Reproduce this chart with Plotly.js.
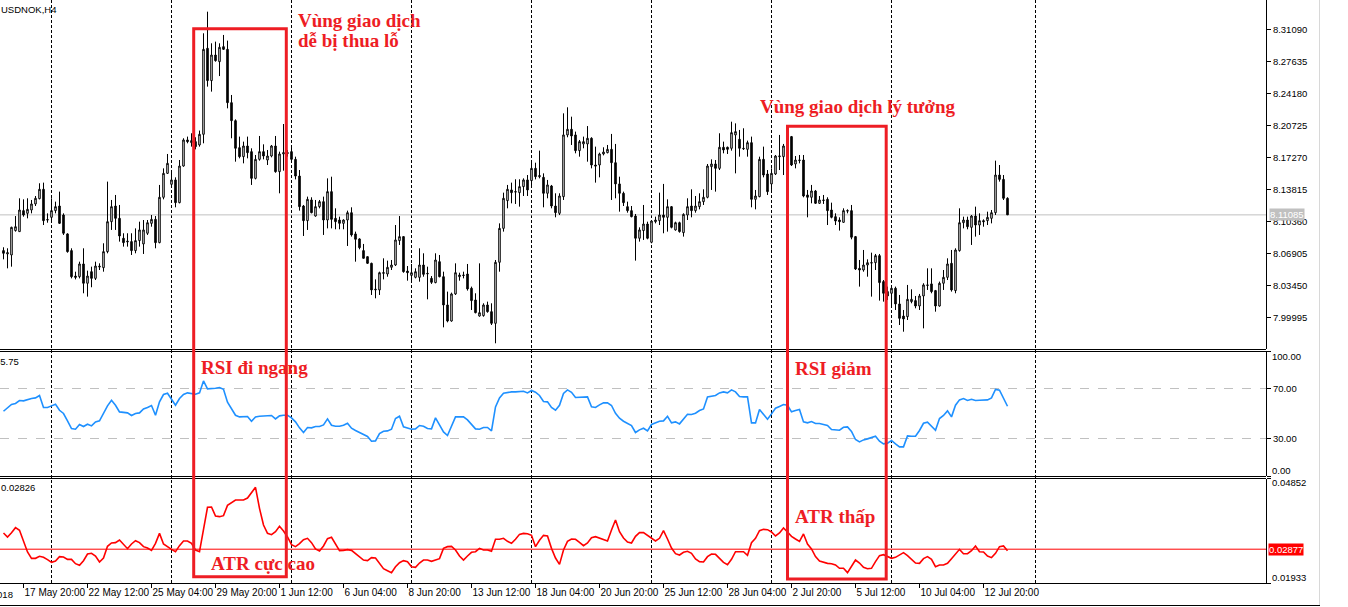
<!DOCTYPE html>
<html><head><meta charset="utf-8">
<script src="https://cdn.plot.ly/plotly-3.0.1.min.js"></script>
<style>html,body{margin:0;padding:0;background:#fff;overflow:hidden}#chart{width:1348px;height:607px}</style>
</head><body><div id="chart"></div>
<script>
const symbolTitle = 'USDNOK,H4';
const openPrices = [8.0723,8.0687,8.0676,8.0939,8.0928,8.1154,8.1125,8.1161,8.1226,8.1283,
8.1384,8.1053,8.1082,8.1154,8.1204,8.1107,8.0903,8.0723,8.0449,8.0442,
8.0579,8.0371,8.0496,8.0424,8.0546,8.0539,8.0712,8.1035,8.1204,8.1071,
8.0856,8.0816,8.0820,8.0723,8.0831,8.0795,8.0910,8.1017,8.1060,8.0809,
8.1298,8.1556,8.1438,8.1485,8.1240,8.1635,8.1916,8.1887,8.1898,8.1862,
8.1977,8.2904,8.2556,8.2832,8.2760,8.2922,8.2893,8.2318,8.2124,8.1833,
8.1736,8.1851,8.1790,8.1502,8.1707,8.1790,8.1700,8.1743,8.1851,8.1574,
8.1765,8.1779,8.1790,8.1707,8.1527,8.1204,8.1046,8.1269,8.1096,8.1197,
8.1251,8.1053,8.1359,8.1071,8.1053,8.1017,8.1053,8.1132,8.0903,8.0849,
8.0723,8.0658,8.0586,8.0299,8.0299,8.0478,8.0471,8.0543,8.0568,8.0831,
8.0874,8.0503,8.0456,8.0435,8.0435,8.0568,8.0478,8.0424,8.0378,8.0604,
8.0442,8.0137,7.9964,8.0256,8.0442,8.0460,8.0471,8.0317,8.0191,8.0018,
8.0022,8.0137,8.0065,7.9939,8.0597,8.0963,8.1262,8.1377,8.1359,8.1348,
8.1413,8.1485,8.1478,8.1610,8.1520,8.1513,8.1341,8.1420,8.1204,8.1125,
8.1305,8.1970,8.2031,8.1970,8.1801,8.1873,8.1873,8.1934,8.1646,8.1646,
8.1765,8.1779,8.1815,8.1671,8.1442,8.1341,8.1197,8.1154,8.1096,8.0856,
8.0939,8.1010,8.0813,8.1035,8.1046,8.1107,8.1082,8.1197,8.0946,8.1024,
8.0917,8.1107,8.1204,8.1154,8.1197,8.1251,8.1298,8.1628,8.1657,8.1610,
8.1837,8.1837,8.1826,8.1970,8.1923,8.1826,8.1815,8.1887,8.1276,8.1305,
8.1707,8.1549,8.1442,8.1549,8.1736,8.1736,8.1844,8.1952,8.1657,8.1700,
8.1700,8.1323,8.1298,8.1366,8.1233,8.1269,8.1276,8.1161,8.1089,8.1053,
8.1028,8.1154,8.1154,8.0874,8.0532,8.0514,8.0568,8.0593,8.0593,8.0669,
8.0389,8.0281,8.0263,8.0317,8.0148,8.0018,8.0011,8.0173,8.0184,8.0126,
8.0234,8.0353,8.0364,8.0292,8.0126,8.0371,8.0435,8.0586,8.0292,8.0723,
8.1024,8.1053,8.0974,8.1096,8.0999,8.1046,8.1046,8.1071,8.1132,8.1538,
8.1491,8.1287];
const highPrices = [8.0759,8.0748,8.0981,8.1096,8.1287,8.1276,8.1287,8.1269,8.1312,8.1449,
8.1456,8.1125,8.1287,8.1251,8.1359,8.1125,8.0910,8.0748,8.0496,8.0604,
8.0748,8.0507,8.0550,8.0604,8.0586,8.0802,8.1467,8.1269,8.1323,8.1215,
8.0910,8.0910,8.0910,8.0963,8.1035,8.1053,8.1053,8.1107,8.1096,8.1431,
8.1610,8.1765,8.1574,8.1513,8.1700,8.1934,8.1952,8.1988,8.1945,8.2017,
8.3066,8.3299,8.2958,8.2976,8.2958,8.3048,8.2987,8.2401,8.2138,8.1952,
8.1898,8.1952,8.1826,8.1754,8.1959,8.1869,8.1808,8.1862,8.1959,8.1790,
8.2088,8.1808,8.1844,8.1736,8.1592,8.1215,8.1305,8.1298,8.1269,8.1269,
8.1305,8.1502,8.1520,8.1179,8.1089,8.1060,8.1154,8.1190,8.0928,8.0856,
8.0795,8.0658,8.0593,8.0413,8.0496,8.0640,8.0615,8.0622,8.0999,8.1096,
8.0874,8.0557,8.0579,8.0532,8.0748,8.0694,8.0550,8.0449,8.0694,8.0676,
8.0496,8.0281,8.0270,8.0586,8.0485,8.0496,8.0579,8.0335,8.0263,8.0586,
8.0155,8.0173,8.0155,8.0622,8.1017,8.1348,8.1431,8.1456,8.1492,8.1492,
8.1502,8.1538,8.1693,8.1671,8.1801,8.1556,8.1485,8.1431,8.1341,8.1341,
8.2203,8.2268,8.2167,8.2006,8.1916,8.1952,8.2066,8.1945,8.1844,8.1779,
8.1837,8.1862,8.1981,8.1873,8.1520,8.1359,8.1251,8.1204,8.1118,8.0974,
8.1215,8.1035,8.1053,8.1089,8.1348,8.1442,8.1276,8.1204,8.1035,8.1035,
8.1125,8.1287,8.1384,8.1312,8.1341,8.1384,8.1657,8.1707,8.1700,8.1988,
8.1898,8.1844,8.2113,8.2095,8.2024,8.2042,8.1909,8.1952,8.1377,8.1736,
8.1844,8.1592,8.1610,8.1754,8.1970,8.1873,8.1898,8.1959,8.1743,8.1754,
8.1754,8.1377,8.1431,8.1377,8.1312,8.1323,8.1298,8.1240,8.1125,8.1082,
8.1179,8.1168,8.1215,8.0881,8.0622,8.0730,8.0629,8.0701,8.0687,8.0687,
8.0406,8.0335,8.0342,8.0335,8.0245,8.0083,8.0353,8.0306,8.0234,8.0256,
8.0371,8.0532,8.0532,8.0299,8.0389,8.0514,8.0640,8.0730,8.0748,8.1179,
8.1089,8.1089,8.1107,8.1197,8.1125,8.1060,8.1143,8.1161,8.1693,8.1646,
8.1538,8.1298];
const lowPrices = [8.0629,8.0532,8.0550,8.0928,8.0928,8.1089,8.1071,8.1125,8.1204,8.1276,
8.0999,8.1024,8.1053,8.1125,8.1010,8.0892,8.0701,8.0424,8.0413,8.0424,
8.0263,8.0227,8.0328,8.0406,8.0514,8.0496,8.0694,8.0946,8.0946,8.0820,
8.0766,8.0766,8.0676,8.0694,8.0766,8.0687,8.0892,8.0981,8.0748,8.0802,
8.1276,8.1549,8.1413,8.1190,8.1233,8.1628,8.1880,8.1844,8.1815,8.1844,
8.1880,8.2491,8.2437,8.2760,8.2605,8.2886,8.2257,8.1934,8.1682,8.1718,
8.1664,8.1718,8.1431,8.1491,8.1693,8.1707,8.1646,8.1729,8.1563,8.1341,
8.1585,8.1736,8.1682,8.1491,8.1154,8.0881,8.0946,8.1125,8.1089,8.1179,
8.0892,8.0963,8.0963,8.0953,8.0953,8.0953,8.0773,8.0874,8.0604,8.0737,
8.0640,8.0579,8.0245,8.0209,8.0245,8.0413,8.0442,8.0514,8.0557,8.0784,
8.0485,8.0399,8.0388,8.0424,8.0388,8.0442,8.0198,8.0364,8.0371,8.0435,
7.9896,7.9950,7.9957,8.0245,8.0399,8.0424,8.0292,8.0083,8.0047,8.0011,
8.0011,8.0054,7.9921,7.9724,8.0496,8.0928,8.1179,8.1233,8.1226,8.1197,
8.1312,8.1312,8.1406,8.1491,8.1502,8.1190,8.1287,8.1179,8.1082,8.1107,
8.1269,8.1945,8.1862,8.1772,8.1736,8.1826,8.1682,8.1610,8.1456,8.1513,
8.1750,8.1772,8.1269,8.1287,8.1143,8.1204,8.1132,8.1082,8.0615,8.0820,
8.0838,8.0845,8.0802,8.1017,8.0999,8.0910,8.0928,8.0963,8.0939,8.0917,
8.0874,8.1053,8.1082,8.1132,8.1168,8.1215,8.1287,8.1377,8.1359,8.1592,
8.1772,8.1765,8.1801,8.1556,8.1736,8.1808,8.1736,8.1190,8.1168,8.1298,
8.1513,8.1323,8.1377,8.1538,8.1592,8.1538,8.1718,8.1635,8.1610,8.1664,
8.1298,8.1082,8.1233,8.1226,8.1226,8.1226,8.0999,8.1071,8.0999,8.0939,
8.1024,8.1125,8.0845,8.0514,8.0335,8.0496,8.0442,8.0227,8.0514,8.0184,
8.0173,8.0191,8.0126,8.0083,7.9921,7.9849,7.9975,8.0155,8.0101,8.0083,
7.9885,8.0299,8.0263,8.0065,8.0119,8.0299,8.0406,8.0281,8.0263,8.0712,
8.0963,8.0953,8.0784,8.0874,8.0892,8.0981,8.0999,8.1017,8.1107,8.1467,
8.1269,8.1107];
const closePrices = [8.0694,8.0701,8.0974,8.0981,8.1161,8.1107,8.1168,8.1226,8.1287,8.1384,
8.1046,8.1057,8.1154,8.1197,8.1017,8.0910,8.0712,8.0442,8.0435,8.0579,
8.0371,8.0449,8.0424,8.0557,8.0554,8.0712,8.1035,8.1197,8.1071,8.0881,
8.0809,8.0824,8.0723,8.0831,8.0946,8.0946,8.1024,8.1060,8.0809,8.1298,
8.1556,8.1664,8.1485,8.1240,8.1635,8.1916,8.1898,8.1909,8.1844,8.1977,
8.2893,8.2556,8.2832,8.2771,8.2915,8.2893,8.2318,8.2124,8.1826,8.1736,
8.1851,8.1779,8.1502,8.1707,8.1790,8.1743,8.1743,8.1851,8.1574,8.1765,
8.1779,8.1772,8.1707,8.1527,8.1197,8.1046,8.1276,8.1132,8.1197,8.1251,
8.1053,8.1359,8.1060,8.1035,8.1017,8.1053,8.1132,8.0892,8.0845,8.0755,
8.0640,8.0586,8.0299,8.0306,8.0485,8.0485,8.0543,8.0568,8.0838,8.0874,
8.0496,8.0485,8.0485,8.0496,8.0568,8.0467,8.0474,8.0381,8.0622,8.0442,
8.0137,7.9964,8.0256,8.0485,8.0460,8.0456,8.0310,8.0184,8.0054,8.0054,
8.0137,8.0065,7.9939,8.0597,8.0963,8.1287,8.1384,8.1348,8.1355,8.1413,
8.1485,8.1377,8.1610,8.1520,8.1531,8.1341,8.1431,8.1204,8.1132,8.1312,
8.1970,8.2031,8.1959,8.1801,8.1898,8.1898,8.1934,8.1646,8.1635,8.1765,
8.1786,8.1815,8.1671,8.1442,8.1341,8.1240,8.1154,8.1089,8.0856,8.0946,
8.1010,8.0856,8.1042,8.1053,8.1107,8.1082,8.1197,8.0974,8.1024,8.0928,
8.1114,8.1197,8.1154,8.1204,8.1251,8.1298,8.1635,8.1657,8.1610,8.1837,
8.1808,8.1815,8.1995,8.2006,8.1826,8.1822,8.1887,8.1276,8.1312,8.1707,
8.1538,8.1359,8.1556,8.1743,8.1743,8.1851,8.1880,8.1646,8.1700,8.1696,
8.1312,8.1298,8.1366,8.1233,8.1269,8.1265,8.1154,8.1082,8.1042,8.1035,
8.1154,8.1150,8.0867,8.0525,8.0514,8.0568,8.0593,8.0590,8.0669,8.0378,
8.0263,8.0234,8.0317,8.0148,7.9993,7.9986,8.0198,8.0198,8.0126,8.0234,
8.0353,8.0349,8.0281,8.0126,8.0371,8.0435,8.0579,8.0299,8.0730,8.1024,
8.1053,8.0981,8.1096,8.0999,8.1046,8.1035,8.1082,8.1132,8.1538,8.1491,
8.1287,8.11085];
const rsiValues = [51.8,54.2,57.2,58.0,60.4,60.1,61.2,62.0,62.5,64.4,
54.8,54.8,56.1,57.4,52.6,50.0,44.1,38.0,37.4,41.2,
39.6,41.4,40.1,43.3,44.1,50.0,56.1,60.6,56.6,51.3,
50.8,50.5,48.4,50.0,50.5,53.7,54.8,56.4,48.6,59.3,
65.2,66.2,61.4,56.6,62.0,65.2,66.5,66.0,65.4,66.5,
76.1,69.7,69.7,70.2,70.8,69.4,59.0,54.2,48.6,47.3,
47.3,47.6,43.8,47.3,47.8,47.8,47.8,48.4,45.7,48.1,
48.6,48.6,46.5,43.3,38.5,34.8,38.8,38.5,39.6,39.6,
40.9,45.7,40.6,39.8,39.8,40.6,42.2,38.2,36.4,35.0,
33.4,31.6,27.8,28.1,34.0,35.8,36.1,37.4,46.0,47.8,
39.3,38.5,37.4,37.7,40.4,39.8,38.0,37.7,46.5,40.9,
35.3,32.4,40.4,47.3,47.3,47.3,44.9,40.9,37.7,37.4,
38.8,38.8,36.1,55.3,62.5,66.2,67.0,67.3,67.3,67.3,
67.8,66.5,68.4,67.0,64.4,59.6,59.3,54.8,52.6,56.6,
66.0,68.9,67.0,62.8,62.8,63.0,63.3,55.3,54.8,56.9,
58.5,58.5,56.4,50.2,46.2,43.8,42.0,40.4,34.8,36.9,
38.2,36.1,41.2,42.8,43.8,44.1,47.8,42.5,43.3,41.7,
45.4,49.4,49.2,50.2,52.4,53.7,63.3,63.6,64.4,66.5,
67.3,66.5,68.9,67.3,63.6,63.3,63.3,42.5,42.5,53.2,
48.9,45.4,49.7,54.2,55.6,57.2,56.6,51.3,52.4,53.2,
43.3,42.5,43.6,42.0,42.0,41.4,40.4,37.2,36.6,36.6,
39.0,39.3,35.6,29.2,27.3,28.9,29.7,30.5,31.8,27.8,
25.7,26.2,28.4,25.7,23.3,23.3,32.1,31.8,31.8,36.4,
42.2,43.0,39.8,36.6,46.0,48.4,52.1,47.3,56.6,60.9,
62.0,60.4,61.4,60.4,60.6,60.6,60.9,62.5,69.2,68.6,
62.5,55.8];
const atrValues = [0.03330,0.03218,0.03339,0.03479,0.03404,0.03115,0.02799,0.02622,0.02622,0.02678,
0.02650,0.02585,0.02510,0.02548,0.02669,0.02659,0.02594,0.02594,0.02473,0.02426,
0.02557,0.02743,0.02762,0.02687,0.02520,0.02631,0.02957,0.03050,0.03060,0.03134,
0.03004,0.02892,0.03022,0.03115,0.03060,0.02948,0.02911,0.02845,0.03041,0.03320,
0.03022,0.02939,0.02873,0.02808,0.02976,0.03106,0.03106,0.03041,0.02855,0.02808,
0.03460,0.04047,0.04056,0.03805,0.03786,0.03814,0.04102,0.04186,0.04251,0.04251,
0.04251,0.04307,0.04456,0.04605,0.04019,0.03553,0.03320,0.03283,0.03367,0.03516,
0.03386,0.03218,0.03004,0.02948,0.03032,0.03143,0.03181,0.03060,0.02883,0.02827,
0.02967,0.03171,0.03209,0.03022,0.02836,0.02845,0.02864,0.02845,0.02752,0.02678,
0.02575,0.02557,0.02641,0.02631,0.02482,0.02333,0.02277,0.02222,0.02389,0.02501,
0.02557,0.02529,0.02389,0.02371,0.02492,0.02575,0.02575,0.02538,0.02575,0.02613,
0.02901,0.02948,0.02957,0.02855,0.02687,0.02575,0.02687,0.02790,0.02808,0.02901,
0.02855,0.02855,0.02818,0.03153,0.03153,0.03181,0.03097,0.03041,0.03153,0.03292,
0.03320,0.03311,0.03264,0.02948,0.03125,0.03264,0.03246,0.02901,0.02631,0.02454,
0.02855,0.03097,0.03162,0.03153,0.03069,0.02976,0.03050,0.03199,0.03227,0.03190,
0.03134,0.03106,0.03413,0.03693,0.03367,0.03190,0.03078,0.03050,0.03237,0.03339,
0.03339,0.03264,0.03171,0.03106,0.03181,0.03395,0.03162,0.02911,0.02752,0.02715,
0.02790,0.02818,0.02762,0.02603,0.02529,0.02520,0.02669,0.02743,0.02734,0.02622,
0.02510,0.02445,0.02594,0.02808,0.02808,0.02808,0.02706,0.03060,0.03181,0.03395,
0.03432,0.03423,0.03358,0.03246,0.03330,0.03469,0.03358,0.03237,0.03162,0.03097,
0.03302,0.03022,0.02883,0.02669,0.02548,0.02510,0.02482,0.02473,0.02436,0.02343,
0.02343,0.02222,0.02408,0.02575,0.02492,0.02371,0.02333,0.02343,0.02529,0.02696,
0.02724,0.02669,0.02622,0.02650,0.02706,0.02780,0.02696,0.02585,0.02492,0.02482,
0.02613,0.02669,0.02594,0.02389,0.02436,0.02436,0.02482,0.02613,0.02743,0.02873,
0.02752,0.02752,0.02836,0.02967,0.02808,0.02799,0.02687,0.02641,0.02762,0.02948,
0.02967,0.02836];
const priceTicks = [7.99995,8.03450,8.06905,8.10360,8.13815,8.17270,8.20725,8.24180,8.27635,8.31090];
const timeTickLabels = ['17 May 20:00','22 May 12:00','25 May 04:00','29 May 20:00','1 Jun 12:00','6 Jun 04:00','8 Jun 20:00','13 Jun 12:00','18 Jun 04:00','20 Jun 20:00','25 Jun 12:00','28 Jun 04:00','2 Jul 20:00','5 Jul 12:00','10 Jul 04:00','12 Jul 20:00'];
const firstDateLabel = '15 May 2018';
const rsiLevels = [30, 70];
const rsiRangeLabels = ['0.00', '100.00'];
const atrRange = [0.01933, 0.04852];
const atrLevel = 0.02877;
const rsiHeaderValue = '55.75';
const atrHeaderValue = '0.02826';
const notes = {
  riskyLine1: 'Vùng giao dịch', riskyLine2: 'dễ bị thua lỗ',
  ideal: 'Vùng giao dịch lý tưởng',
  rsiFlat: 'RSI đi ngang', rsiDown: 'RSI giảm',
  atrHigh: 'ATR cực cao', atrLow: 'ATR thấp'
};

// ---- bar times (H4, weekdays only) ----
const months = ['Jan','Feb','Mar','Apr','May','Jun','Jul','Aug','Sep','Oct','Nov','Dec'];
const barTimes = [];
let t = Date.UTC(2018, 4, 17, 0, 0);
for (let i = 0; i < openPrices.length; i++) {
  barTimes.push(new Date(t));
  t += 4 * 3600e3;
  if (new Date(t).getUTCDay() === 6) t += 2 * 86400e3;
}
const barLabels = barTimes.map(d => d.getUTCDate() + ' ' + months[d.getUTCMonth()] + ' ' + String(d.getUTCHours()).padStart(2, '0') + ':00');
const xIdx = barLabels.map((_, i) => i);
const tickIdx = timeTickLabels.map(l => barLabels.indexOf(l));
const weekStarts = barTimes.map((d, i) => (d.getUTCDay() === 1 && d.getUTCHours() === 0) ? i : -1).filter(i => i >= 0);
weekStarts.push(xIdx.length + 6); // grid line in empty right area

// ---- pixel helpers (plot area 1266 x 583) ----
const PW = 1266, PH = 583;
const px = x => x / PW;
const py = y => (PH - y) / PH;

const red = '#ee1d24';
const noteFont = {family: 'Liberation Serif, Times New Roman, serif', size: 19, color: red, weight: 700};
const smallFont = {family: 'Liberation Sans, Arial, sans-serif', size: 9.5, color: '#000'};

function note(text, x, y, font, extra) {
  return Object.assign({text, x: px(x), y: py(y), xref: 'paper', yref: 'paper', xanchor: 'left', yanchor: 'middle', showarrow: false, font}, extra || {});
}

const lastClose = closePrices[closePrices.length - 1];

const traces = [
  {type: 'candlestick', x: xIdx, open: openPrices, high: highPrices, low: lowPrices, close: closePrices,
   xaxis: 'x', yaxis: 'y', whiskerwidth: 0, hoverinfo: 'skip', showlegend: false,
   increasing: {line: {color: '#000', width: 1}, fillcolor: '#fff'},
   decreasing: {line: {color: '#000', width: 1}, fillcolor: '#000'}},
  {type: 'scatter', mode: 'lines', x: xIdx, y: rsiValues, xaxis: 'x', yaxis: 'y2',
   line: {color: '#1e90ff', width: 1.6}, hoverinfo: 'skip', showlegend: false},
  {type: 'scatter', mode: 'lines', x: xIdx, y: atrValues, xaxis: 'x', yaxis: 'y3',
   line: {color: '#ff0000', width: 1.6}, hoverinfo: 'skip', showlegend: false}
];

const shapes = [];
weekStarts.forEach(i => shapes.push({type: 'line', xref: 'x', yref: 'paper', x0: i, x1: i, y0: 0, y1: 1, layer: 'below',
  line: {color: '#000', width: 1, dash: '3px,2px'}}));
// panel borders
[349.5, 351.5, 476.5, 478.5].forEach(y => shapes.push({type: 'line', xref: 'paper', yref: 'paper', x0: 0, x1: 1, y0: py(y), y1: py(y), line: {color: '#000', width: 1}}));
// current price and ATR level
shapes.push({type: 'line', xref: 'paper', yref: 'y', x0: 0, x1: 1, y0: lastClose, y1: lastClose, layer: 'below', line: {color: '#c0c0c0', width: 1}});
shapes.push({type: 'line', xref: 'paper', yref: 'y3', x0: 0, x1: 1, y0: atrLevel, y1: atrLevel, line: {color: '#ff0000', width: 1}});
// highlight boxes
shapes.push({type: 'rect', xref: 'paper', yref: 'paper', x0: px(193.7), x1: px(286.3), y0: py(576.7), y1: py(28.7), line: {color: red, width: 3}});
shapes.push({type: 'rect', xref: 'paper', yref: 'paper', x0: px(787.5), x1: px(886.2), y0: py(579), y1: py(126.2), line: {color: red, width: 3}});
// window frame
shapes.push({type: 'line', xref: 'paper', yref: 'paper', x0: px(1319.5), x1: px(1319.5), y0: py(605), y1: py(0), line: {color: '#d8d8d8', width: 1}});
shapes.push({type: 'line', xref: 'paper', yref: 'paper', x0: px(0), x1: px(1320), y0: py(605.5), y1: py(605.5), line: {color: '#000', width: 1}});

const annotations = [
  note(symbolTitle, -1, 10, smallFont),
  note(rsiHeaderValue, 21, 361, smallFont, {xanchor: 'right'}),
  note(atrHeaderValue, -1.5, 487.5, smallFont),
  note(firstDateLabel, 15, 594, smallFont, {xanchor: 'right'}),
  note(rsiRangeLabels[1], 1269.5, 356.7, smallFont),
  note(rsiRangeLabels[0], 1269.5, 470.7, smallFont),
  note(atrRange[1].toFixed(5), 1269.5, 482.7, smallFont),
  note(atrRange[0].toFixed(5), 1269.5, 577.3, smallFont),
  note(lastClose.toFixed(5), 1269, 214.5, Object.assign({}, smallFont, {color: '#fff'}), {bgcolor: '#c0c0c0', borderpad: 0}),
  note(atrLevel.toFixed(5), 1268, 549, Object.assign({}, smallFont, {color: '#fff'}), {bgcolor: '#ff0000', borderpad: 0}),
  note(notes.riskyLine1, 295.5, 20.3, noteFont),
  note(notes.riskyLine2, 295.5, 40.9, noteFont),
  note(notes.ideal, 757.5, 106.4, noteFont),
  note(notes.rsiFlat, 198.5, 367.8, noteFont),
  note(notes.rsiDown, 792.5, 368.8, noteFont),
  note(notes.atrHigh, 209, 563.6, noteFont),
  note(notes.atrLow, 793.5, 516.8, noteFont)
];

const axisCommon = {side: 'right', ticks: 'outside', ticklen: 4, tickcolor: '#000', showline: true, linecolor: '#000', linewidth: 1,
  zeroline: false, anchor: 'x', fixedrange: true, tickfont: smallFont};

const layout = {
  width: 1348, height: 607,
  margin: {l: 0, r: 82, t: 0, b: 24, pad: 0},
  paper_bgcolor: '#fff', plot_bgcolor: '#fff',
  font: smallFont, showlegend: false, hovermode: false,
  boxgap: 0.45,
  xaxis: {range: [-0.875, 315.625], showgrid: false, zeroline: false, tickvals: tickIdx, ticktext: timeTickLabels,
    ticks: 'outside', ticklen: 4, tickcolor: '#000', ticklabelposition: 'outside right', tickangle: 0,
    showline: true, linecolor: '#000', linewidth: 1, anchor: 'y3', rangeslider: {visible: false}, fixedrange: true,
    tickfont: Object.assign({}, smallFont, {size: 10})},
  yaxis: Object.assign({}, axisCommon, {domain: [py(349), 1], range: [7.96624, 8.34249], showgrid: false,
    tickvals: priceTicks, ticktext: priceTicks.map(v => v.toFixed(5))}),
  yaxis2: Object.assign({}, axisCommon, {domain: [py(476), py(351)], range: [0, 100], showgrid: true, gridcolor: '#c0c0c0', griddash: 'dash', gridwidth: 1,
    tickvals: [0].concat(rsiLevels, [100]), ticktext: [''].concat(rsiLevels.map(v => v.toFixed(2)), [''])}),
  yaxis3: Object.assign({}, axisCommon, {domain: [0, py(478.5)], range: atrRange, showgrid: false,
    tickvals: atrRange, ticktext: ['', '']}),
  shapes, annotations
};

Plotly.newPlot('chart', traces, layout, {displayModeBar: false, staticPlot: true});
</script>
</body></html>
